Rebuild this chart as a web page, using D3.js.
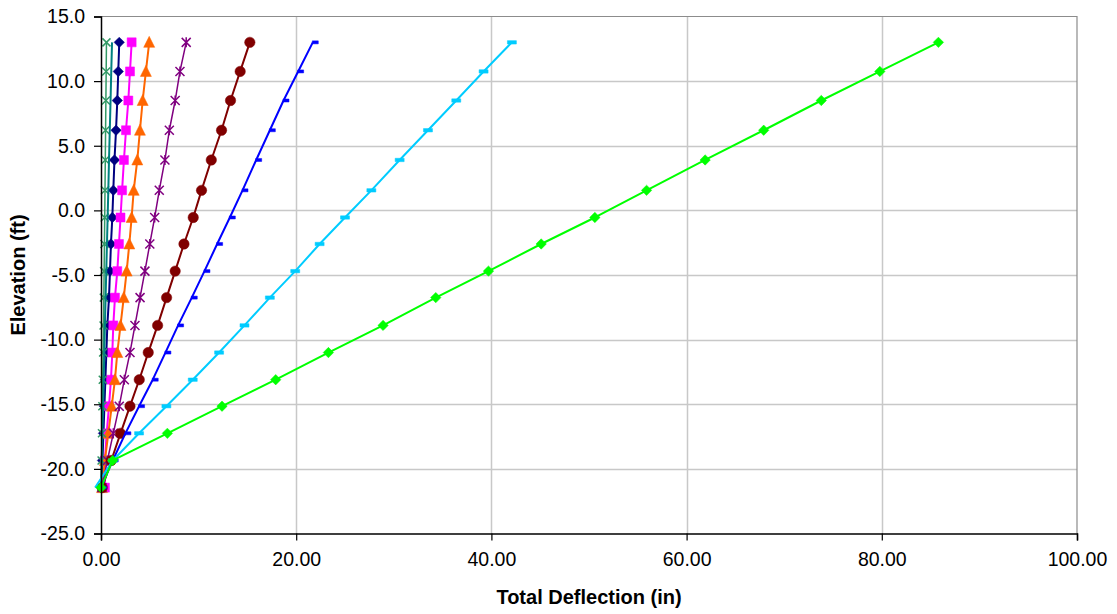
<!DOCTYPE html>
<html>
<head>
<meta charset="utf-8">
<script src="https://cdn.jsdelivr.net/npm/d3@7"></script>
<style>
  html, body { margin: 0; padding: 0; background: #ffffff; }
  svg { display: block; font-family: "Liberation Sans", Arial, sans-serif; }
</style>
</head>
<body>
<svg id="chart" width="1117" height="614"></svg>
<script>
// ---------------- DATA ----------------
const elevations = [13.0, 10.75, 8.5, 6.2, 3.9, 1.55, -0.55, -2.6, -4.7, -6.75, -8.9, -11.0, -13.1, -15.15, -17.25, -19.35, -21.45];

const navyValues    = [1.87, 1.77, 1.67, 1.54, 1.38, 1.26, 1.16, 1.02, 0.92, 0.82, 0.65, 0.55, 0.45, 0.35, 0.25, 0.15, 0.05];
const magentaValues = [3.14, 2.97, 2.80, 2.56, 2.35, 2.16, 2.00, 1.84, 1.67, 1.43, 1.26, 1.16, 1.02, 0.82, 0.58, 0.40, 0.40];
const orangeValues  = [4.94, 4.60, 4.27, 3.99, 3.72, 3.35, 3.14, 2.90, 2.63, 2.33, 2.00, 1.67, 1.43, 1.10, 0.75, 0.40, 0.10];
const seaValues     = [0.56, 0.53, 0.50, 0.47, 0.44, 0.41, 0.38, 0.35, 0.32, 0.29, 0.26, 0.22, 0.18, 0.14, 0.10, 0.06, 0.02];
const purpleValues  = [8.73, 8.09, 7.60, 7.00, 6.55, 5.97, 5.50, 5.00, 4.50, 4.00, 3.48, 2.97, 2.39, 1.87, 1.26, 0.65, 0.10];
const maroonValues  = [15.25, 14.26, 13.27, 12.35, 11.30, 10.30, 9.45, 8.50, 7.60, 6.72, 5.80, 4.84, 3.92, 2.97, 2.00, 1.05, 0.13];
const tealValues    = [1.13, 1.05, 0.98, 0.90, 0.82, 0.75, 0.68, 0.61, 0.54, 0.47, 0.40, 0.34, 0.28, 0.21, 0.14, 0.08, 0.02];
const blueValues    = [21.7, 20.2, 18.7, 17.3, 15.9, 14.5, 13.2, 11.9, 10.6, 9.3, 7.9, 6.6, 5.3, 3.9, 2.5, 1.2, 0.0];
const cyanValues    = [42.1, 39.2, 36.4, 33.5, 30.6, 27.7, 25.0, 22.4, 19.9, 17.3, 14.7, 12.1, 9.4, 6.7, 3.9, 1.2, -0.6];
const greenValues   = [85.8, 79.8, 73.8, 67.9, 61.9, 55.9, 50.6, 45.1, 39.7, 34.3, 28.9, 23.3, 17.9, 12.4, 6.8, 1.2, 0.0];

const xTicks = [0, 20, 40, 60, 80, 100];
const yTicks = [15, 10, 5, 0, -5, -10, -15, -20, -25];

const xTitle = "Total Deflection (in)";
const yTitle = "Elevation (ft)";

// ---------------- STYLES ----------------
const seriesList = [
  { values: navyValues,    color: "#000080", marker: "diamond",  width: 2 },
  { values: magentaValues, color: "#FF00FF", marker: "square",   width: 2 },
  { values: orangeValues,  color: "#FF6600", marker: "triangle", width: 2 },
  { values: seaValues,     color: "#339966", marker: "x",        width: 1.5 },
  { values: purpleValues,  color: "#800080", marker: "star",     width: 1.5 },
  { values: maroonValues,  color: "#800000", marker: "circle",   width: 2 },
  { values: tealValues,    color: "#008080", marker: "none",     width: 2 },
  { values: blueValues,    color: "#0000FF", marker: "dashR",    width: 2 },
  { values: cyanValues,    color: "#00CCFF", marker: "dashC",    width: 2 },
  { values: greenValues,   color: "#00FF00", marker: "diamond",  width: 2 }
];

const svg = d3.select("#chart");
const W = 1117, H = 614;
const plot = { left: 101, right: 1077, top: 16.5, bottom: 533.5 };

const x = d3.scaleLinear().domain([0, 100]).range([plot.left, plot.right]);
const y = d3.scaleLinear().domain([-25, 15]).range([plot.bottom, plot.top]);

const loc = d3.formatLocale({ decimal: ".", thousands: ",", grouping: [3], currency: ["$", ""], minus: "-" });
const fx = loc.format(".2f");
const fy = loc.format(".1f");

svg.append("rect").attr("width", W).attr("height", H).attr("fill", "#ffffff");

// gridlines
const grid = svg.append("g");
grid.selectAll("line.h").data(yTicks.filter(d => d !== -25 && d !== 15)).enter().append("line")
  .attr("x1", plot.left).attr("x2", plot.right)
  .attr("y1", d => Math.round(y(d)) + 0.5).attr("y2", d => Math.round(y(d)) + 0.5)
  .attr("stroke", "#c8c8c8").attr("stroke-width", 1.5);
grid.selectAll("line.v").data(xTicks.filter(d => d !== 0 && d !== 100)).enter().append("line")
  .attr("y1", plot.top).attr("y2", plot.bottom)
  .attr("x1", d => Math.round(x(d)) + 0.5).attr("x2", d => Math.round(x(d)) + 0.5)
  .attr("stroke", "#c8c8c8").attr("stroke-width", 1.5);

// plot border (top/right gray)
svg.append("path")
  .attr("d", `M${plot.left},${plot.top}H${plot.right}V${plot.bottom}`)
  .attr("fill", "none").attr("stroke", "#8c8c8c").attr("stroke-width", 1.2);

// series
const line = d3.line().x(d => x(d[0])).y(d => y(d[1]));

function markerPath(type, cx, cy) {
  switch (type) {
    case "diamond": { const r = 5.2; return `M${cx},${cy - r}L${cx + r},${cy}L${cx},${cy + r}L${cx - r},${cy}Z`; }
    case "square": { const r = 4.5; return `M${cx - r},${cy - r}h${2 * r}v${2 * r}h${-2 * r}Z`; }
    case "triangle": { const r = 5.5; return `M${cx},${cy - r - 0.5}L${cx + r},${cy + r - 0.5}L${cx - r},${cy + r - 0.5}Z`; }
    case "circle": { const r = 5.2; return `M${cx - r},${cy}a${r},${r} 0 1,0 ${2 * r},0a${r},${r} 0 1,0 ${-2 * r},0Z`; }
    case "x": { const r = 4; return `M${cx - r},${cy - r}L${cx + r},${cy + r}M${cx - r},${cy + r}L${cx + r},${cy - r}`; }
    case "star": { const r = 4.5; return `M${cx - r},${cy - r}L${cx + r},${cy + r}M${cx - r},${cy + r}L${cx + r},${cy - r}M${cx},${cy - r - 0.5}V${cy + r + 0.5}`; }
    case "dashR": return `M${cx - 0.5},${cy - 1.5}h6v3h-6Z`;
    case "dashC": return `M${cx - 4.5},${cy - 1.7}h9v3.4h-9Z`;
  }
  return "";
}

const [xMin, xMax] = x.domain();
seriesList.forEach(s => {
  const pts = s.values.map((v, i) => [v, elevations[i]]);
  const g = svg.append("g");
  g.append("path").attr("d", line(pts)).attr("fill", "none")
    .attr("stroke", s.color).attr("stroke-width", s.width).attr("stroke-linejoin", "round");
  if (s.marker !== "none") {
    const stroked = (s.marker === "x" || s.marker === "star");
    // markers outside the axis range are not drawn (as in the original chart)
    g.selectAll("path.m").data(pts.filter(d => d[0] >= xMin && d[0] <= xMax)).enter().append("path")
      .attr("d", d => markerPath(s.marker, x(d[0]), y(d[1])))
      .attr("fill", stroked ? "none" : s.color)
      .attr("stroke", s.color)
      .attr("stroke-width", stroked ? 1.5 : 0.5);
  }
});

// axes
const yAxis = svg.append("g").attr("transform", `translate(${plot.left},0)`)
  .call(d3.axisLeft(y).tickValues(yTicks).tickFormat(fy).tickSize(7).tickPadding(9));
const xAxis = svg.append("g").attr("transform", `translate(0,${plot.bottom})`)
  .call(d3.axisBottom(x).tickValues(xTicks).tickFormat(fx).tickSize(7).tickPadding(12));

[yAxis, xAxis].forEach(a => {
  a.select(".domain").attr("stroke", "#000").attr("stroke-width", 1.5);
  a.selectAll(".tick line").attr("stroke", "#000").attr("stroke-width", 1.2);
  a.selectAll(".tick text").attr("fill", "#000").style("font-size", "19.5px")
    .style("font-family", "'Liberation Sans', Arial, sans-serif");
});

// titles
svg.append("text").attr("x", (plot.left + plot.right) / 2).attr("y", 604)
  .attr("text-anchor", "middle").style("font-size", "20px").style("font-weight", "bold")
  .text(xTitle);
svg.append("text").attr("transform", `translate(25,${(plot.top + plot.bottom) / 2}) rotate(-90)`)
  .attr("text-anchor", "middle").style("font-size", "20px").style("font-weight", "bold")
  .text(yTitle);
</script>
</body>
</html>
